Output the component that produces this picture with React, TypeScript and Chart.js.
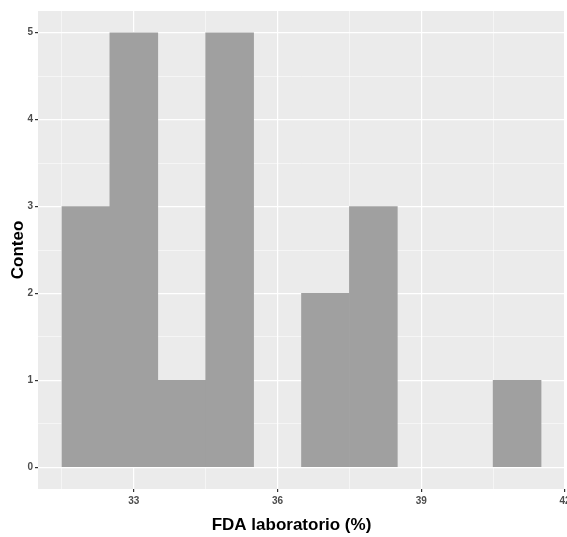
import React, { useEffect, useRef } from "react";
import { Chart, registerables } from "chart.js";

Chart.register(...registerables);

// Histogram bins (width 1), centres and counts
const binCenters = [32, 33, 34, 35, 36, 37, 38, 39, 40, 41];
const counts = [3, 5, 1, 5, 0, 2, 3, 0, 0, 1];

// Axis breaks
const xMajorTicks = [33, 36, 39, 42];
const xMinorTicks = [31.5, 34.5, 37.5, 40.5];
const yMajorTicks = [0, 1, 2, 3, 4, 5];
const yMinorTicks = [0.5, 1.5, 2.5, 3.5, 4.5];

const xTitle = "FDA laboratorio (%)";
const yTitle = "Conteo";

const FONT = "'Liberation Sans', Arial, Helvetica, sans-serif";

const panelBg = {
  id: "panelBg",
  beforeDraw(chart: any) {
    const { ctx, chartArea } = chart;
    ctx.save();
    ctx.fillStyle = "#ebebeb";
    ctx.fillRect(chartArea.left, chartArea.top, chartArea.right - chartArea.left, chartArea.bottom - chartArea.top);
    ctx.restore();
  },
};

// x-axis title, drawn slightly left of the panel centre as in the reference
const xTitlePlugin = {
  id: "xTitlePlugin",
  afterDraw(chart: any) {
    const { ctx, chartArea } = chart;
    ctx.save();
    ctx.font = `bold 17px ${FONT}`;
    ctx.fillStyle = "#000000";
    ctx.textAlign = "center";
    ctx.textBaseline = "alphabetic";
    ctx.fillText(xTitle, (chartArea.left + chartArea.right) / 2 - 10, 530);
    ctx.restore();
  },
};

const tickVal = (c: any) => (c && c.tick ? Number(c.tick.value) : NaN);

export default function App() {
  const ref = useRef<HTMLCanvasElement | null>(null);

  useEffect(() => {
    if (!ref.current) return;
    const isMajorX = (v: number) => xMajorTicks.includes(v);
    const isMajorY = (v: number) => yMajorTicks.includes(v);
    const chart = new Chart(ref.current, {
      type: "bar",
      data: {
        datasets: [
          {
            data: binCenters.map((x, i) => ({ x, y: counts[i] === 0 ? null : counts[i] })),
            backgroundColor: "#a0a0a0",
            borderWidth: 0,
            barPercentage: 1,
            categoryPercentage: 1,
          },
        ],
      },
      plugins: [panelBg, xTitlePlugin],
      options: {
        responsive: false,
        animation: false,
        devicePixelRatio: 1,
        layout: { padding: { top: 11, right: 15, left: 0, bottom: 0 } },
        plugins: { legend: { display: false }, tooltip: { enabled: false } },
        scales: {
          x: {
            type: "linear",
            min: 31,
            max: 42,
            offset: false,
            border: { display: false },
            afterBuildTicks: (s: any) => {
              s.ticks = [...xMinorTicks, ...xMajorTicks].sort((a, b) => a - b).map((v) => ({ value: v }));
            },
            afterFit: (s: any) => {
              s.height = 48;
            },
            grid: {
              offset: false,
              color: "#ffffff",
              lineWidth: (c: any) => (isMajorX(tickVal(c)) ? 1.2 : 0.5),
              tickColor: (c: any) => (isMajorX(tickVal(c)) ? "#333333" : "rgba(0,0,0,0)"),
              tickLength: 3,
              drawTicks: true,
            },
            ticks: {
              autoSkip: false,
              maxRotation: 0,
              padding: 3,
              color: "#4d4d4d",
              font: { family: FONT, size: 10, weight: "bold" },
              callback: (v: any) => (isMajorX(Number(v)) ? String(v) : ""),
            },
            title: { display: false },
          },
          y: {
            type: "linear",
            min: -0.25,
            max: 5.25,
            border: { display: false },
            afterBuildTicks: (s: any) => {
              s.ticks = [...yMajorTicks, ...yMinorTicks].sort((a, b) => a - b).map((v) => ({ value: v }));
            },
            afterFit: (s: any) => {
              s.width = 38;
            },
            grid: {
              color: "#ffffff",
              lineWidth: (c: any) => (isMajorY(tickVal(c)) ? 1.2 : 0.5),
              tickColor: (c: any) => (isMajorY(tickVal(c)) ? "#333333" : "rgba(0,0,0,0)"),
              tickLength: 3,
            },
            ticks: {
              autoSkip: false,
              padding: 2,
              color: "#4d4d4d",
              font: { family: FONT, size: 10, weight: "bold" },
              callback: (v: any) => (isMajorY(Number(v)) ? String(v) : ""),
            },
            title: {
              display: true,
              text: yTitle,
              color: "#000000",
              font: { family: FONT, size: 17, weight: "bold" },
              padding: { top: 8, bottom: 0 },
            },
          },
        },
      },
    } as any);
    return () => chart.destroy();
  }, []);

  return (
    <div style={{ position: "fixed", left: 0, top: 0, right: 0, bottom: 0, overflow: "hidden", background: "#ffffff" }}>
      <canvas ref={ref} width={580} height={537} style={{ display: "block" }} />
    </div>
  );
}
